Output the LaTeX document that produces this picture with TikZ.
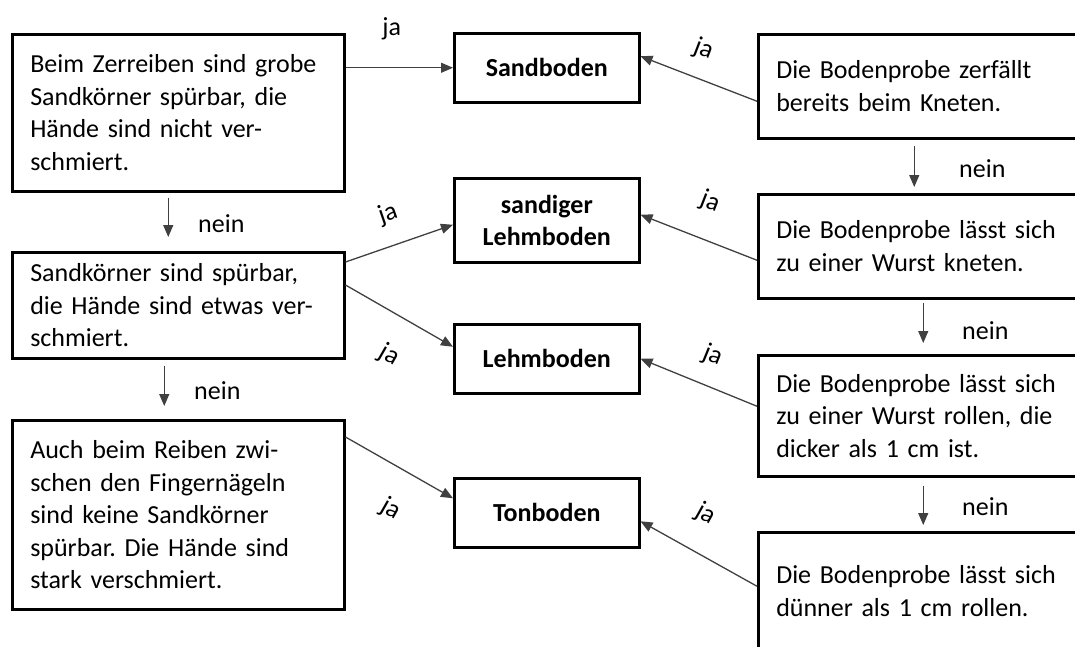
\documentclass[tikz,border=0pt]{standalone}
\usepackage{fontspec}
\setmainfont{Carlito}
\usepackage{tikz}
\usetikzlibrary{positioning,arrows.meta}
\frenchspacing
\newcommand{\boxfont}{\fontsize{26}{32.5}\selectfont}
\tikzset{testnode/.style={rectangle, draw=black, line width=2.5pt, align=left, inner xsep=18pt, inner ysep=0pt, anchor=north west, font=\boxfont},
resultnode/.style={rectangle, draw=black, line width=2.5pt, align=center, minimum width=185pt, inner sep=0pt, anchor=north west, font=\boxfont\bfseries},
arr/.style={->, line width=1.3pt, draw=black!75},
janode/.style={sloped, font=\boxfont},
neinnode/.style={font=\boxfont},}

\begin{document}
\begin{tikzpicture}[x=1pt, y=-1pt, >={Triangle[length=12pt, width=10pt]}]
\useasboundingbox (0,0) rectangle (1075,646);
\clip (0,0) rectangle (1075,646);
% left column
\node [testnode, text width=296pt, minimum height=157pt] (l1) at (11,33) {Beim Zerreiben sind grobe\\Sandkörner spürbar, die\\Hände sind nicht ver-\\schmiert.};
\node [testnode, text width=296pt, minimum height=106pt] (l2) at (11,251) {Sandkörner sind spürbar,\\die Hände sind etwas ver-\\schmiert.};
\node [testnode, text width=296pt, minimum height=189pt] (l3) at (11,419) {Auch beim Reiben zwi-\\schen den Fingernägeln\\sind keine Sandkörner\\spürbar. Die Hände sind\\stark verschmiert.};
% middle column
\node [resultnode, minimum height=69pt] (sand) at (453,32) {Sandboden};
\node [resultnode, minimum height=84pt] (slehm) at (453,177) {sandiger\\Lehmboden};
\node [resultnode, minimum height=69pt] (lehm) at (453,323) {Lehmboden};
\node [resultnode, minimum height=69pt] (ton) at (453,477) {Tonboden};
% right column
\node [testnode, text width=322pt, minimum height=104pt] (r1) at (757,33) {Die Bodenprobe zerfällt\\bereits beim Kneten.};
\node [testnode, text width=322pt, minimum height=104pt] (r2) at (757,193) {Die Bodenprobe lässt sich\\zu einer Wurst kneten.};
\node [testnode, text width=322pt, minimum height=121pt] (r3) at (757,354) {Die Bodenprobe lässt sich\\zu einer Wurst rollen, die\\dicker als 1 cm ist.};
\node [testnode, text width=322pt, minimum height=118pt] (r4) at (757,531) {Die Bodenprobe lässt sich\\dünner als 1 cm rollen.};
% nein
\draw[arr] ([xshift=-10pt, yshift=-5pt]l1.south) -- node[neinnode, right=26pt, yshift=-6pt] (n1) {nein} ([xshift=-10pt, yshift=14pt]l2.north);
\draw[arr] ([xshift=-14pt, yshift=-6pt]l2.south) -- node[neinnode, right=26pt, yshift=-5pt] (n2) {nein} ([xshift=-14pt, yshift=13pt]l3.north);
\draw[arr] ([xshift=-23pt, yshift=-6pt]r1.south) -- node[neinnode, right=41pt, yshift=-2pt] (n3) {nein} ([xshift=-23pt, yshift=6pt]r2.north);
\draw[arr] ([xshift=-14pt, yshift=-3pt]r2.south) -- node[neinnode, right=35pt, yshift=-8pt] (n4) {nein} ([xshift=-14pt, yshift=11pt]r3.north);
\draw[arr] ([xshift=-14pt, yshift=-8pt]r3.south) -- node[neinnode, right=35pt, yshift=-1pt] (n5) {nein} ([xshift=-14pt, yshift=6pt]r4.north);
% ja
\draw[arr] (l1.east |- sand.west) -- node[janode, pos=0.43, above=24pt] (j1) {ja} (sand.west);
\draw[arr] ([yshift=-11pt]l2.north east) -- node[janode, pos=0.49, above=16pt] (j2) {ja} ([yshift=-4.5pt]slehm.west);
\draw[arr] ([yshift=-34pt]l2.north east) -- node[janode, pos=0.59, below=24pt] (j3) {ja} ([yshift=12pt]lehm.west);
\draw[arr] ([yshift=-18pt]l3.north east) -- node[janode, pos=0.61, below=25.5pt] (j4) {ja} ([yshift=14.5pt]ton.west);
\draw[arr] ([yshift=-15pt]r1.west) -- node[janode, pos=0.55, above=14pt] (j5) {ja} ([yshift=11.5pt]sand.east);
\draw[arr] ([yshift=-14pt]r2.west) -- node[janode, pos=0.52, above=22pt] (j6) {ja} ([yshift=5.5pt]slehm.east);
\draw[arr] ([yshift=9.5pt]r3.west) -- node[janode, pos=0.48, above=15pt] (j7) {ja} (lehm.east);
\draw[arr] ([yshift=5pt]r4.west) -- node[janode, pos=0.6, above=23pt] (j8) {ja} ([yshift=-8.5pt]ton.east);
\end{tikzpicture}
\end{document}
